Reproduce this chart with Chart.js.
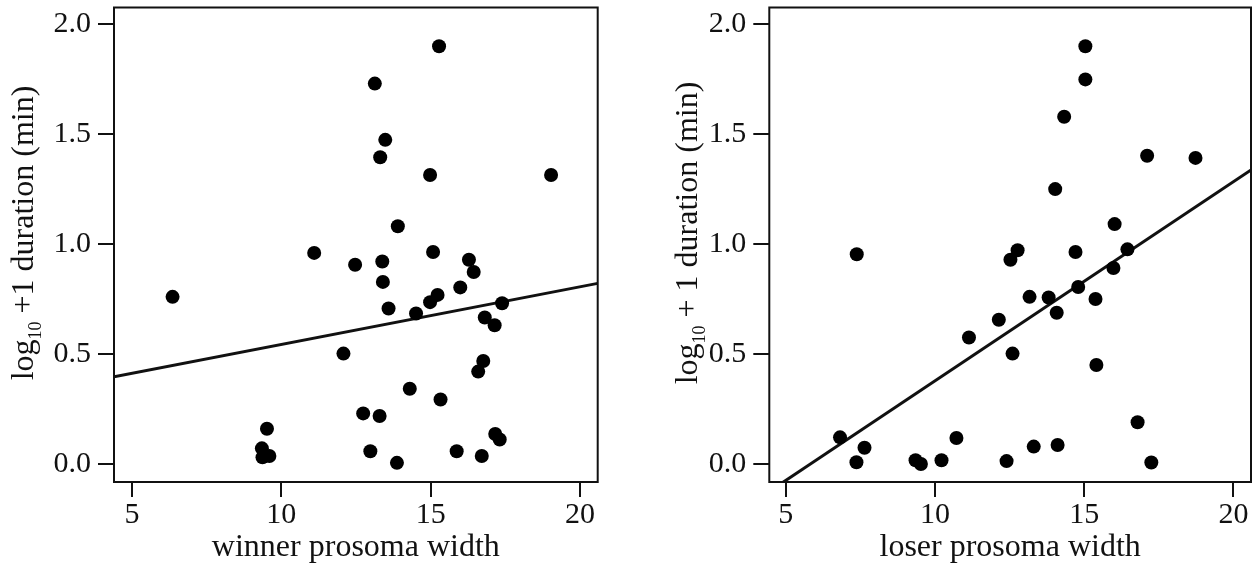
<!DOCTYPE html>
<html>
<head>
<meta charset="utf-8">
<script src="https://cdn.jsdelivr.net/npm/chart.js@4"></script>
<style>
  html, body { margin: 0; padding: 0; background: #fff; }
  .panel { position: absolute; top: 0; width: 629px; height: 569px; }
  #leftPanel { left: 0; }
  #rightPanel { left: 629px; }
</style>
</head>
<body>
<div class="panel" id="leftPanel"><canvas id="winnerChart" width="629" height="569"></canvas></div>
<div class="panel" id="rightPanel"><canvas id="loserChart" width="629" height="569"></canvas></div>
<script>
// Winner prosoma width vs. log10 + 1 contest duration
const winnerWidth = [
  6.36, 9.52, 9.35, 9.37, 9.60, 11.10, 15.28, 13.13, 13.48, 13.31,
  14.98, 19.03, 13.90, 15.08, 12.47, 13.38, 16.28, 16.44, 13.40, 15.99,
  15.23, 14.98, 17.39, 13.59, 14.51, 16.81, 17.14, 12.08, 16.76, 16.59,
  14.30, 15.33, 12.74, 13.29, 17.16, 17.31, 12.98, 15.87, 16.71, 13.87
];
const winnerDuration = [
  0.760, 0.160, 0.071, 0.030, 0.036, 0.960, 1.900, 1.730, 1.474, 1.395,
  1.314, 1.314, 1.081, 0.964, 0.906, 0.921, 0.929, 0.873, 0.828, 0.803,
  0.769, 0.736, 0.731, 0.707, 0.684, 0.666, 0.631, 0.502, 0.468, 0.420,
  0.342, 0.293, 0.230, 0.218, 0.136, 0.111, 0.058, 0.058, 0.036, 0.005
];

// Loser prosoma width vs. log10 + 1 contest duration
const loserWidth = [
  7.38, 6.82, 7.64, 7.37, 9.35, 9.53, 10.22, 10.72, 15.04, 15.04,
  14.33, 17.11, 18.73, 14.03, 16.02, 12.77, 12.53, 14.71, 16.45, 15.98,
  14.80, 13.17, 13.81, 15.38, 14.08, 12.14, 11.14, 12.60, 15.41, 16.79,
  13.31, 14.11, 12.40, 17.25
];
const loserDuration = [
  0.954, 0.121, 0.074, 0.008, 0.017, 0.000, 0.017, 0.118, 1.900, 1.749,
  1.579, 1.402, 1.392, 1.250, 1.091, 0.972, 0.929, 0.964, 0.976, 0.891,
  0.805, 0.760, 0.757, 0.750, 0.688, 0.656, 0.575, 0.502, 0.450, 0.190,
  0.079, 0.086, 0.013, 0.007
];

// Least-squares fit lines
const winnerFit = { slope: 0.0262, intercept: 0.2818 };
const loserFit = { slope: 0.0906, intercept: -0.528 };

// Axis ticks
const xTickValues = [5, 10, 15, 20];
const yTickValues = [0.0, 0.5, 1.0, 1.5, 2.0];

const FONT = "'Liberation Serif', 'Times New Roman', serif";
const INK = '#111';

// Frame around the plotting area and the rotated y title with a subscript
const framePlugin = {
  id: 'frameAndTitle',
  afterDraw(chart, args, opts) {
    const { ctx, chartArea: a } = chart;
    ctx.save();
    ctx.strokeStyle = INK;
    ctx.lineWidth = 2;
    ctx.strokeRect(a.left, a.top, a.right - a.left, a.bottom - a.top);

    const big = `${opts.size}px ${FONT}`;
    const small = `${opts.subSize}px ${FONT}`;
    ctx.fillStyle = INK;
    ctx.textBaseline = 'alphabetic';
    ctx.textAlign = 'left';
    ctx.font = big;
    const w1 = ctx.measureText(opts.head).width;
    const w3 = ctx.measureText(opts.tail).width;
    ctx.font = small;
    const w2 = ctx.measureText(opts.sub).width;
    const total = w1 + w2 + w3;
    ctx.translate(opts.baselineX, opts.centerY);
    ctx.rotate(-Math.PI / 2);
    let x = -total / 2;
    ctx.font = big;
    ctx.fillText(opts.head, x, 0);
    x += w1;
    ctx.font = small;
    ctx.fillText(opts.sub, x, opts.subShift);
    x += w2;
    ctx.font = big;
    ctx.fillText(opts.tail, x, 0);
    ctx.restore();
  }
};

function makeChart(canvasId, xs, ys, fit, cfg) {
  const points = xs.map((x, i) => ({ x: x, y: ys[i] }));
  const fitLine = [cfg.xMin, cfg.xMax].map(x => ({ x: x, y: fit.intercept + fit.slope * x }));
  return new Chart(document.getElementById(canvasId), {
    type: 'scatter',
    data: {
      datasets: [
        {
          type: 'line',
          data: fitLine,
          borderColor: INK,
          borderWidth: 3,
          pointRadius: 0,
          fill: false,
          order: 1
        },
        {
          data: points,
          backgroundColor: '#000',
          borderWidth: 0,
          pointRadius: 7,
          order: 0
        }
      ]
    },
    options: {
      responsive: false,
      animation: false,
      events: [],
      layout: { padding: { top: 7.5, right: cfg.padRight, bottom: 0, left: 0 } },
      plugins: {
        legend: { display: false },
        tooltip: { enabled: false },
        frameAndTitle: {
          head: 'log', sub: '10', tail: cfg.titleTail,
          size: 32, subSize: 18, subShift: 8,
          baselineX: cfg.titleX, centerY: 233
        }
      },
      scales: {
        x: {
          type: 'linear',
          min: cfg.xMin,
          max: cfg.xMax,
          afterBuildTicks: s => { s.ticks = xTickValues.map(v => ({ value: v })); },
          afterFit: s => { s.height = 87; s.paddingLeft = 0; s.paddingRight = 0; },
          grid: { drawOnChartArea: false, drawTicks: true, tickLength: 15, color: INK, lineWidth: 2 },
          border: { display: false },
          ticks: {
            color: INK, padding: 0, maxRotation: 0,
            font: { family: FONT, size: 30 },
            callback: v => String(v)
          },
          title: {
            display: true, text: cfg.xTitle, color: INK,
            font: { family: FONT, size: 32 },
            padding: { top: 0, bottom: 2 }
          }
        },
        y: {
          type: 'linear',
          min: -0.082,
          max: 2.076,
          afterBuildTicks: s => { s.ticks = yTickValues.map(v => ({ value: v })); },
          afterFit: s => { s.width = cfg.yWidth; s.paddingTop = 0; s.paddingBottom = 0; },
          grid: { drawOnChartArea: false, drawTicks: true, tickLength: 16, color: INK, lineWidth: 2 },
          border: { display: false },
          ticks: {
            color: INK, padding: 7,
            font: { family: FONT, size: 30 },
            callback: v => Number(v).toFixed(1)
          }
        }
      }
    },
    plugins: [framePlugin]
  });
}

makeChart('winnerChart', winnerWidth, winnerDuration, winnerFit, {
  xMin: 4.40, xMax: 20.59, padRight: 31.3, yWidth: 114,
  titleX: 33, titleTail: ' +1 duration (min)', xTitle: 'winner prosoma width'
});

makeChart('loserChart', loserWidth, loserDuration, loserFit, {
  xMin: 4.45, xMax: 20.59, padRight: 5.3, yWidth: 140.3,
  titleX: 67.7, titleTail: ' + 1 duration (min)', xTitle: 'loser prosoma width'
});
</script>
</body>
</html>
